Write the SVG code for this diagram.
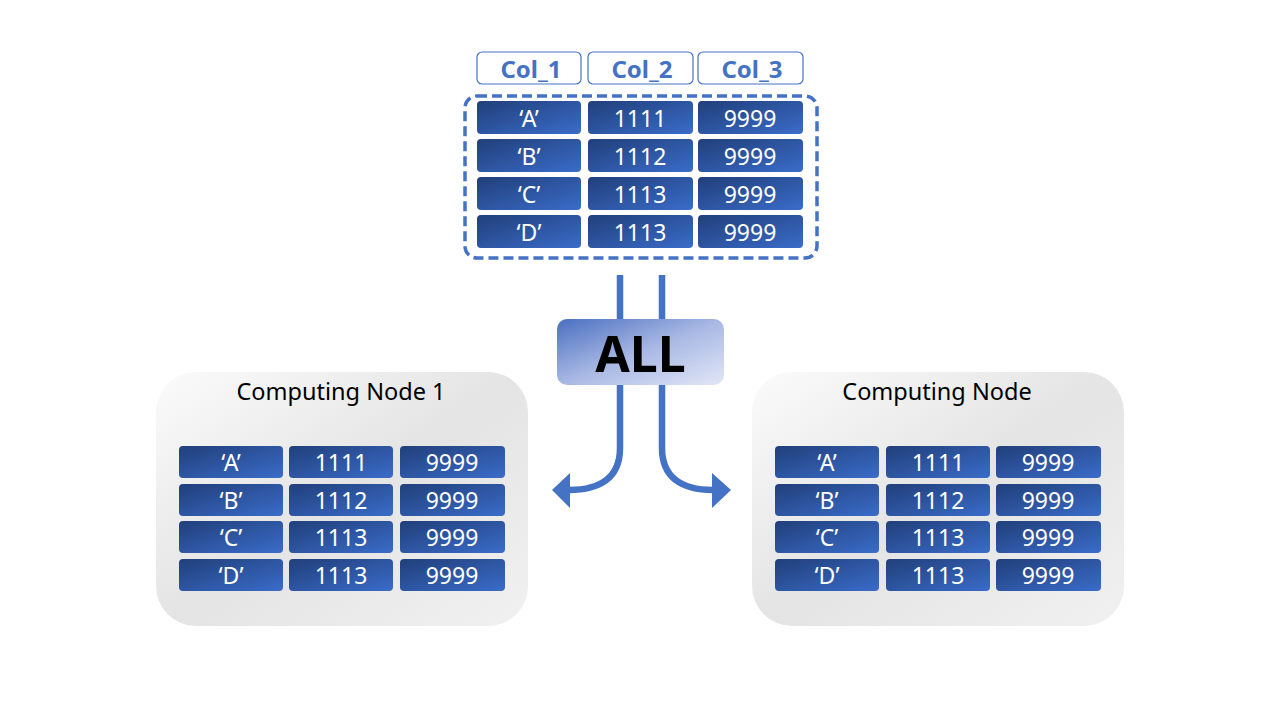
<svg xmlns="http://www.w3.org/2000/svg" width="1280" height="720" viewBox="0 0 1280 720">
<defs>
<linearGradient id="cellG" x1="0" y1="0" x2="1" y2="1">
<stop offset="0" stop-color="#213f7a"/>
<stop offset="1" stop-color="#3a6cc9"/>
</linearGradient>
<linearGradient id="allG" x1="0" y1="0" x2="1" y2="1">
<stop offset="0" stop-color="#4a6fc0"/>
<stop offset="0.5" stop-color="#a8b8e4"/>
<stop offset="1" stop-color="#e2e7f7"/>
</linearGradient>
<linearGradient id="nodeG" x1="0" y1="0" x2="1" y2="1">
<stop offset="0" stop-color="#fbfbfb"/>
<stop offset="0.5" stop-color="#e4e4e4"/>
<stop offset="1" stop-color="#f1f1f1"/>
</linearGradient>
<style>
.cell{fill:url(#cellG);}
.ct{font-family:"Noto Sans","Open Sans",sans-serif;font-size:23px;fill:#ffffff;text-anchor:middle;}
.hd{fill:#ffffff;stroke:#4472c4;stroke-width:1.2;}
.ht{font-family:"Noto Sans","Open Sans",sans-serif;font-size:24px;font-weight:bold;fill:#4472c4;text-anchor:middle;}
.node{fill:url(#nodeG);}
.nt{font-family:"Noto Sans","Open Sans",sans-serif;font-size:23.5px;fill:#000000;text-anchor:middle;}
.ln{fill:none;stroke:#4472c4;stroke-width:6.5;}
.ah{fill:#4472c4;}
</style>
</defs>
<rect width="1280" height="720" fill="#ffffff"/>

<g id="header">
<rect class="hd" x="477" y="52" width="104" height="32" rx="5"/>
<text class="ht" x="531" y="78">Col_1</text>
<rect class="hd" x="588" y="52" width="105" height="32" rx="5"/>
<text class="ht" x="642" y="78">Col_2</text>
<rect class="hd" x="698" y="52" width="105" height="32" rx="5"/>
<text class="ht" x="752" y="78">Col_3</text>
</g>

<g id="source-table">
<rect x="465" y="96" width="352" height="162" rx="12" fill="none" stroke="#4472c4" stroke-width="3.5" stroke-dasharray="10,5"/>
<g>
<rect class="cell" x="477" y="101" width="104" height="33" rx="4"/><text class="ct" x="529" y="126.5">‘A’</text>
<rect class="cell" x="588" y="101" width="105" height="33" rx="4"/><text class="ct" x="640" y="126.5">1111</text>
<rect class="cell" x="698" y="101" width="105" height="33" rx="4"/><text class="ct" x="750" y="126.5">9999</text>
<rect class="cell" x="477" y="139" width="104" height="33" rx="4"/><text class="ct" x="529" y="164.5">‘B’</text>
<rect class="cell" x="588" y="139" width="105" height="33" rx="4"/><text class="ct" x="640" y="164.5">1112</text>
<rect class="cell" x="698" y="139" width="105" height="33" rx="4"/><text class="ct" x="750" y="164.5">9999</text>
<rect class="cell" x="477" y="177" width="104" height="33" rx="4"/><text class="ct" x="529" y="202.5">‘C’</text>
<rect class="cell" x="588" y="177" width="105" height="33" rx="4"/><text class="ct" x="640" y="202.5">1113</text>
<rect class="cell" x="698" y="177" width="105" height="33" rx="4"/><text class="ct" x="750" y="202.5">9999</text>
<rect class="cell" x="477" y="215" width="104" height="33" rx="4"/><text class="ct" x="529" y="240.5">‘D’</text>
<rect class="cell" x="588" y="215" width="105" height="33" rx="4"/><text class="ct" x="640" y="240.5">1113</text>
<rect class="cell" x="698" y="215" width="105" height="33" rx="4"/><text class="ct" x="750" y="240.5">9999</text>
</g>
</g>

<g id="connectors">
<path class="ln" d="M620,275 L620,448 C620,478 600,490 569,490"/>
<polygon class="ah" points="552,490 570,473 570,508"/>
<path class="ln" d="M662,275 L662,448 C662,478 682,490 713,490"/>
<polygon class="ah" points="731,490 712,473 712,508"/>
</g>

<g id="all">
<rect x="557" y="319" width="167" height="66" rx="10" fill="url(#allG)"/>
<text x="640.5" y="372" font-family="'Noto Sans','Open Sans',sans-serif" font-size="50" font-weight="bold" fill="#000000" text-anchor="middle">ALL</text>
</g>

<g id="node1">
<rect class="node" x="156" y="372" width="372" height="254" rx="40"/>
<text class="nt" x="341" y="400">Computing Node 1</text>
<rect class="cell" x="179" y="446" width="104" height="32" rx="4"/><text class="ct" x="231" y="470.5">‘A’</text>
<rect class="cell" x="289" y="446" width="104" height="32" rx="4"/><text class="ct" x="341" y="470.5">1111</text>
<rect class="cell" x="400" y="446" width="105" height="32" rx="4"/><text class="ct" x="452" y="470.5">9999</text>
<rect class="cell" x="179" y="484" width="104" height="32" rx="4"/><text class="ct" x="231" y="508.5">‘B’</text>
<rect class="cell" x="289" y="484" width="104" height="32" rx="4"/><text class="ct" x="341" y="508.5">1112</text>
<rect class="cell" x="400" y="484" width="105" height="32" rx="4"/><text class="ct" x="452" y="508.5">9999</text>
<rect class="cell" x="179" y="521" width="104" height="32" rx="4"/><text class="ct" x="231" y="545.5">‘C’</text>
<rect class="cell" x="289" y="521" width="104" height="32" rx="4"/><text class="ct" x="341" y="545.5">1113</text>
<rect class="cell" x="400" y="521" width="105" height="32" rx="4"/><text class="ct" x="452" y="545.5">9999</text>
<rect class="cell" x="179" y="559" width="104" height="32" rx="4"/><text class="ct" x="231" y="583.5">‘D’</text>
<rect class="cell" x="289" y="559" width="104" height="32" rx="4"/><text class="ct" x="341" y="583.5">1113</text>
<rect class="cell" x="400" y="559" width="105" height="32" rx="4"/><text class="ct" x="452" y="583.5">9999</text>
</g>

<g id="node2">
<rect class="node" x="752" y="372" width="372" height="254" rx="40"/>
<text class="nt" x="937" y="400">Computing Node</text>
<rect class="cell" x="775" y="446" width="104" height="32" rx="4"/><text class="ct" x="827" y="470.5">‘A’</text>
<rect class="cell" x="886" y="446" width="104" height="32" rx="4"/><text class="ct" x="938" y="470.5">1111</text>
<rect class="cell" x="996" y="446" width="105" height="32" rx="4"/><text class="ct" x="1048" y="470.5">9999</text>
<rect class="cell" x="775" y="484" width="104" height="32" rx="4"/><text class="ct" x="827" y="508.5">‘B’</text>
<rect class="cell" x="886" y="484" width="104" height="32" rx="4"/><text class="ct" x="938" y="508.5">1112</text>
<rect class="cell" x="996" y="484" width="105" height="32" rx="4"/><text class="ct" x="1048" y="508.5">9999</text>
<rect class="cell" x="775" y="521" width="104" height="32" rx="4"/><text class="ct" x="827" y="545.5">‘C’</text>
<rect class="cell" x="886" y="521" width="104" height="32" rx="4"/><text class="ct" x="938" y="545.5">1113</text>
<rect class="cell" x="996" y="521" width="105" height="32" rx="4"/><text class="ct" x="1048" y="545.5">9999</text>
<rect class="cell" x="775" y="559" width="104" height="32" rx="4"/><text class="ct" x="827" y="583.5">‘D’</text>
<rect class="cell" x="886" y="559" width="104" height="32" rx="4"/><text class="ct" x="938" y="583.5">1113</text>
<rect class="cell" x="996" y="559" width="105" height="32" rx="4"/><text class="ct" x="1048" y="583.5">9999</text>
</g>
</svg>
